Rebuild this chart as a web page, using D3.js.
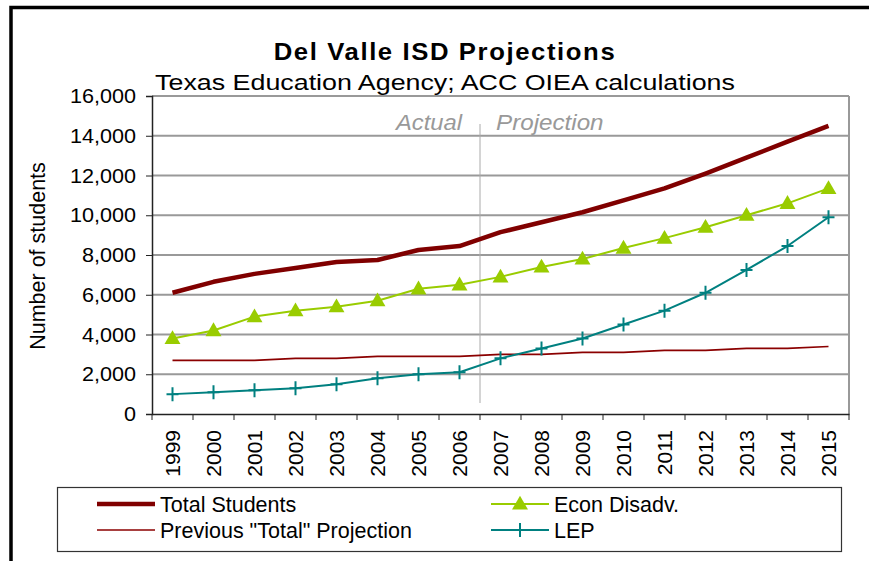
<!DOCTYPE html>
<html>
<head>
<meta charset="utf-8">
<script src="https://cdn.jsdelivr.net/npm/d3@7"></script>
<style>
  body { margin: 0; background: #fff; }
  svg { display: block; font-family: "Liberation Sans", Arial, sans-serif; }
</style>
</head>
<body>
<div id="chart"></div>
<script>
// Data
const years = ['1999','2000','2001','2002','2003','2004','2005','2006','2007',
               '2008','2009','2010','2011','2012','2013','2014','2015'];
const totalStudents = [6100, 6650, 7050, 7350, 7650, 7750, 8250, 8450, 9150,
                       9650, 10150, 10750, 11350, 12100, 12900, 13700, 14500];
const econDisadv = [3800, 4200, 4900, 5200, 5400, 5700, 6300, 6500, 6900,
                    7400, 7800, 8350, 8850, 9400, 10000, 10600, 11350];
const prevTotal = [2700, 2700, 2700, 2800, 2800, 2900, 2900, 2900, 3000,
                   3000, 3100, 3100, 3200, 3200, 3300, 3300, 3400];
const lep = [1000, 1100, 1200, 1300, 1500, 1800, 2000, 2100, 2800,
             3300, 3800, 4500, 5200, 6100, 7250, 8450, 9900];
const yTicks = [0, 2000, 4000, 6000, 8000, 10000, 12000, 14000, 16000];

const series = [
    { name: 'Total Students', values: totalStudents, color: '#800000', width: 4.5, marker: null },
    { name: 'Econ Disadv.', values: econDisadv, color: '#99cc00', width: 2, marker: 'triangle' },
    { name: 'Previous "Total" Projection', values: prevTotal, color: '#8b0000', width: 1.6, marker: null },
    { name: 'LEP', values: lep, color: '#008080', width: 2, marker: 'plus' }
];

const width = 869, height = 561;
const plot = { left: 152, right: 849, top: 96, bottom: 414 };

const svg = d3.select('#chart').append('svg')
    .attr('width', width)
    .attr('height', height);

// text drawn a bit wider than the font, like the original export
function wideText(px, py, str, size, sx, anchor) {
    return svg.append('text')
        .attr('transform', `translate(${px},${py}) scale(${sx},1)`)
        .attr('text-anchor', anchor || 'start')
        .style('font-size', size + 'px')
        .text(str);
}

// outer frame (only top and left edges visible)
svg.append('path')
    .attr('d', `M11,561 L11,7.5 L869,7.5`)
    .attr('fill', 'none')
    .attr('stroke', '#000')
    .attr('stroke-width', 3.5);

const x = d3.scaleBand().domain(years).range([plot.left, plot.right]).padding(0);
const y = d3.scaleLinear().domain([0, 16000]).range([plot.bottom, plot.top]);
const cx = d => x(d) + x.bandwidth() / 2;

// gridlines
svg.append('g').selectAll('line')
    .data(yTicks.filter(t => t > 0))
    .enter().append('line')
    .attr('x1', plot.left).attr('x2', plot.right)
    .attr('y1', d => y(d)).attr('y2', d => y(d))
    .attr('stroke', '#999')
    .attr('stroke-width', 2);

// right edge of plot
svg.append('line')
    .attr('x1', plot.right).attr('x2', plot.right)
    .attr('y1', plot.top).attr('y2', plot.bottom)
    .attr('stroke', '#999')
    .attr('stroke-width', 2);

// actual / projection divider
const divX = x('2007');
svg.append('line')
    .attr('x1', divX).attr('x2', divX)
    .attr('y1', 124).attr('y2', 403)
    .attr('stroke', '#aaa')
    .attr('stroke-width', 1);

wideText(divX - 18, 130, 'Actual', 22, 1.08, 'end')
    .style('font-style', 'italic').attr('fill', '#999');
wideText(divX + 16, 130, 'Projection', 22, 1.1, 'start')
    .style('font-style', 'italic').attr('fill', '#999');

// y axis
const tickSx = 1.03;
const yAxis = svg.append('g')
    .attr('transform', `translate(${plot.left},0)`)
    .call(d3.axisLeft(y).tickValues(yTicks).tickFormat(d3.format(',')).tickSize(6).tickPadding(10));
yAxis.select('.domain').attr('stroke', '#222').attr('stroke-width', 1.5);
yAxis.selectAll('.tick line').attr('stroke', '#222');
yAxis.selectAll('text')
    .style('font-size', '21px').attr('fill', '#000')
    .attr('x', -16 / tickSx)
    .attr('transform', `scale(${tickSx},1)`);

// x axis
const xAxis = svg.append('g')
    .attr('transform', `translate(0,${plot.bottom})`)
    .call(d3.axisBottom(x).tickSize(0).tickSizeOuter(0));
xAxis.select('.domain').attr('stroke', '#222').attr('stroke-width', 1.5);
xAxis.selectAll('text')
    .style('font-size', '21px').attr('fill', '#000')
    .attr('text-anchor', 'end')
    .attr('transform', 'rotate(-90)')
    .attr('x', -16).attr('y', 0).attr('dy', '0.36em');
// tick marks on bin edges
svg.append('g').selectAll('line')
    .data(years.concat(['end']))
    .enter().append('line')
    .attr('x1', (d, i) => plot.left + i * x.bandwidth())
    .attr('x2', (d, i) => plot.left + i * x.bandwidth())
    .attr('y1', plot.bottom).attr('y2', plot.bottom + 6)
    .attr('stroke', '#222');

// lines
const line = d3.line().x((d, i) => cx(years[i])).y(d => y(d));
const drawOrder = [series[2], series[3], series[1], series[0]];
drawOrder.forEach(s => {
    svg.append('path')
        .datum(s.values)
        .attr('d', line)
        .attr('fill', 'none')
        .attr('stroke', s.color)
        .attr('stroke-width', s.width)
        .attr('stroke-linejoin', 'round');
});

const triangle = d3.symbol().type(d3.symbolTriangle).size(110);
function drawMarker(g, type, color, px, py) {
    if (type === 'triangle') {
        g.append('path')
            .attr('d', triangle())
            .attr('transform', `translate(${px},${py + 1})`)
            .attr('fill', color);
    } else if (type === 'plus') {
        g.append('path')
            .attr('d', `M${px - 6},${py} H${px + 6} M${px},${py - 7} V${py + 7}`)
            .attr('stroke', color)
            .attr('stroke-width', 2);
    }
}

[series[1], series[3]].forEach(s => {
    const g = svg.append('g');
    s.values.forEach((v, i) => drawMarker(g, s.marker, s.color, cx(years[i]), y(v)));
});

// titles
wideText(445, 60, 'Del Valle ISD Projections', 24, 1.07, 'middle')
    .style('font-weight', 'bold')
    .style('letter-spacing', '1.5px');
wideText(445, 90, 'Texas Education Agency; ACC OIEA calculations', 22, 1.22, 'middle');

// y axis title
svg.append('text')
    .attr('transform', 'translate(45,256) rotate(-90)')
    .attr('text-anchor', 'middle')
    .style('font-size', '21.5px')
    .text('Number of students');

// legend
svg.append('rect')
    .attr('x', 57.5).attr('y', 487.5)
    .attr('width', 784).attr('height', 64)
    .attr('fill', '#fff')
    .attr('stroke', '#333')
    .attr('stroke-width', 1.2);

const legendPos = [
    { s: series[0], x: 97, y: 504 },
    { s: series[1], x: 491, y: 504 },
    { s: series[2], x: 97, y: 530 },
    { s: series[3], x: 491, y: 530 }
];
legendPos.forEach(p => {
    const g = svg.append('g');
    g.append('line')
        .attr('x1', p.x).attr('x2', p.x + 58)
        .attr('y1', p.y).attr('y2', p.y)
        .attr('stroke', p.s.color)
        .attr('stroke-width', p.s.width);
    drawMarker(g, p.s.marker, p.s.color, p.x + 29, p.y);
    g.append('text')
        .attr('x', p.x + 63).attr('y', p.y)
        .attr('dy', '0.36em')
        .style('font-size', '21.5px')
        .text(p.s.name);
});
</script>
</body>
</html>
